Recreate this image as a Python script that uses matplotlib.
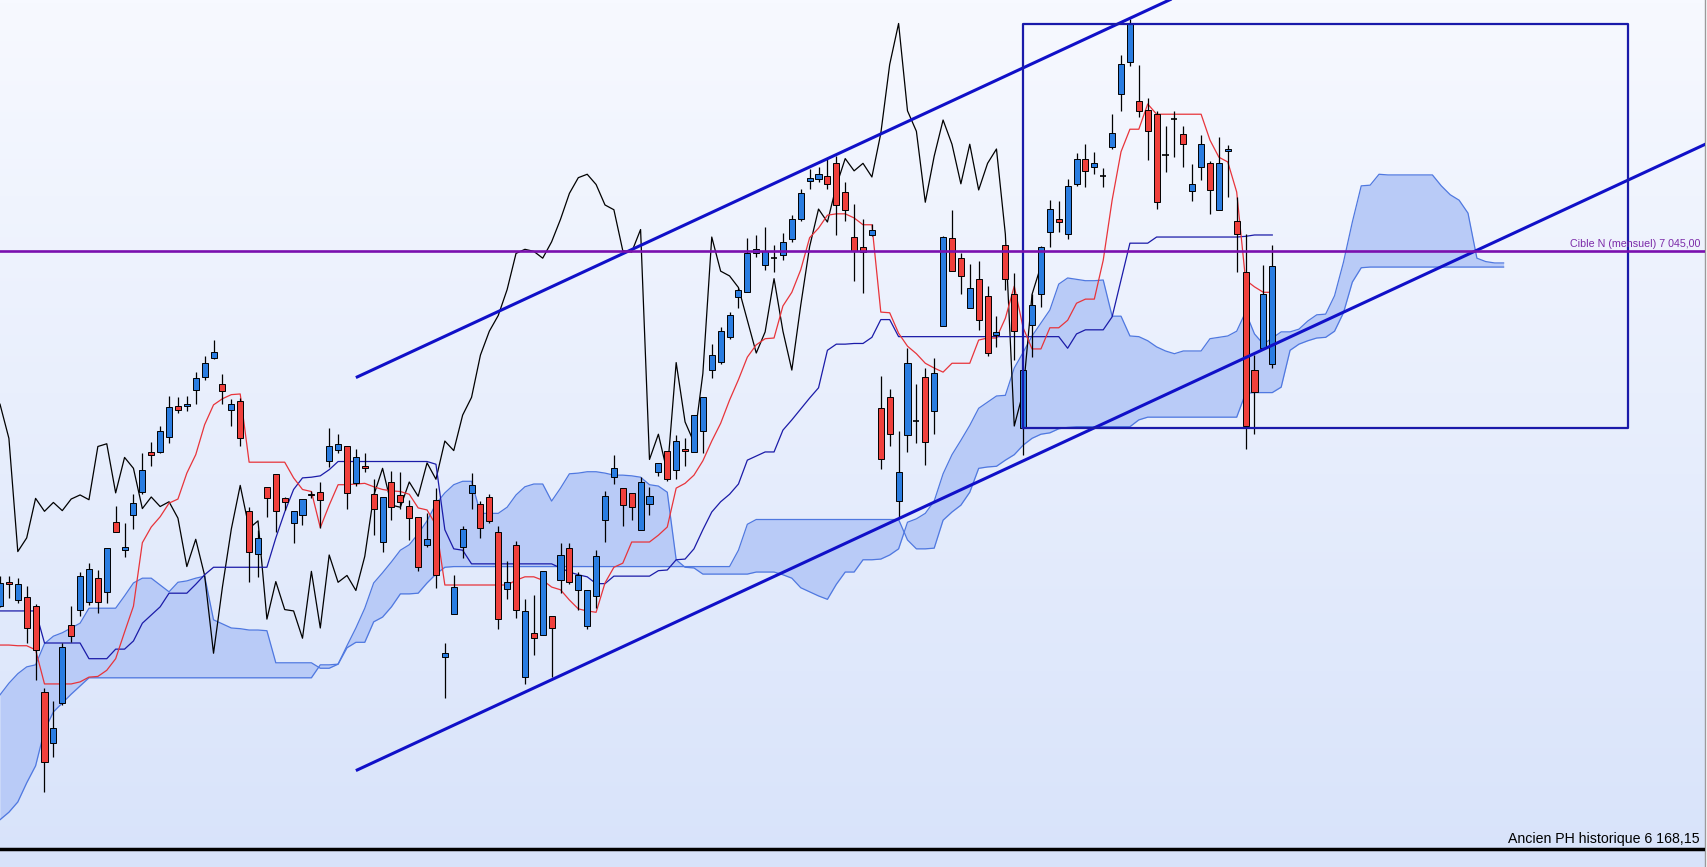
import matplotlib
matplotlib.use("Agg")
import matplotlib.pyplot as plt
import numpy as np
from matplotlib.colors import LinearSegmentedColormap

# daily candles
opens = [6524, 6560, 6533, 6537, 6524, 6398, 6324, 6382, 6497, 6518,
         6530, 6565, 6545, 6647, 6607, 6657, 6692, 6750, 6750, 6772,
         6818, 6817, 6841, 6860, 6887, 6849, 6812, 6824, 6664, 6601,
         6698, 6717, 6682, 6646, 6658, 6689, 6692, 6737, 6753, 6758,
         6704, 6730, 6688, 6618, 6706, 6687, 6671, 6654, 6613, 6680,
         6449, 6512, 6611, 6690, 6674, 6684, 6633, 6549, 6614, 6420,
         6485, 6482, 6509, 6562, 6609, 6547, 6495, 6539, 6651, 6714,
         6697, 6690, 6636, 6673, 6720, 6752, 6723, 6755, 6750, 6780,
         6870, 6882, 6918, 6977, 6984, 7041, 7024, 7034, 7039, 7062,
         7091, 7147, 7150, 7155, 7173, 7131, 7065, 7051, 7068, 6814,
         6830, 6678, 6775, 6795, 6860, 6810, 6935, 7063, 7035, 6961,
         7004, 6978, 6922, 7054, 6981, 6785, 6936, 6982, 7072, 7091,
         7070, 7142, 7179, 7167, 7154, 7197, 7274, 7321, 7264, 7251,
         7245, 7185, 7238, 7216, 7132, 7167, 7173, 7105, 7191, 7088,
         7014, 6870, 6902, 6879]
highs = [6568, 6568, 6565, 6554, 6527, 6404, 6385, 6470, 6524, 6574,
         6587, 6577, 6609, 6671, 6646, 6689, 6749, 6765, 6788, 6832,
         6831, 6832, 6867, 6890, 6914, 6864, 6827, 6829, 6670, 6636,
         6699, 6717, 6684, 6664, 6681, 6693, 6706, 6785, 6777, 6758,
         6755, 6748, 6711, 6684, 6722, 6721, 6680, 6655, 6660, 6697,
         6470, 6570, 6641, 6719, 6678, 6689, 6642, 6590, 6620, 6534,
         6540, 6576, 6509, 6616, 6616, 6574, 6547, 6606, 6693, 6746,
         6697, 6690, 6714, 6699, 6734, 6752, 6775, 6770, 6804, 6830,
         6908, 6933, 6955, 6990, 7063, 7068, 7079, 7054, 7071, 7097,
         7136, 7165, 7168, 7180, 7184, 7145, 7113, 7091, 7084, 6861,
         6842, 6780, 6902, 6849, 6873, 6887, 7066, 7105, 7042, 7025,
         7030, 6993, 6949, 7054, 7012, 6870, 6982, 7052, 7120, 7118,
         7150, 7188, 7201, 7189, 7166, 7246, 7332, 7384, 7317, 7269,
         7250, 7228, 7250, 7228, 7172, 7214, 7176, 7212, 7200, 7123,
         7070, 6892, 7024, 7053]
lows = [6523, 6536, 6529, 6470, 6416, 6251, 6303, 6379, 6472, 6509,
        6526, 6514, 6529, 6632, 6596, 6637, 6688, 6730, 6749, 6763,
        6807, 6810, 6821, 6856, 6886, 6821, 6788, 6759, 6560, 6566,
        6655, 6633, 6665, 6617, 6643, 6683, 6638, 6728, 6748, 6666,
        6700, 6720, 6628, 6604, 6650, 6667, 6621, 6576, 6611, 6550,
        6389, 6512, 6595, 6666, 6624, 6646, 6490, 6535, 6507, 6410,
        6452, 6482, 6420, 6544, 6557, 6519, 6490, 6522, 6618, 6703,
        6641, 6651, 6636, 6658, 6715, 6708, 6710, 6730, 6750, 6748,
        6859, 6879, 6916, 6961, 6984, 7036, 7016, 7014, 7032, 7057,
        7088, 7135, 7145, 7135, 7068, 7088, 7001, 6983, 7066, 6725,
        6759, 6655, 6750, 6763, 6731, 6776, 6935, 7015, 6982, 6961,
        6929, 6891, 6904, 6987, 6885, 6746, 6889, 6963, 7050, 7073,
        7062, 7140, 7138, 7157, 7139, 7194, 7250, 7315, 7241, 7178,
        7106, 7160, 7183, 7167, 7118, 7149, 7099, 7105, 7123, 7014,
        6754, 6776, 6902, 6873]
closes = [6558, 6557, 6557, 6492, 6460, 6295, 6345, 6464, 6480, 6568,
          6578, 6530, 6609, 6632, 6611, 6675, 6723, 6745, 6780, 6816,
          6812, 6820, 6858, 6881, 6896, 6839, 6820, 6770, 6604, 6624,
          6682, 6663, 6676, 6664, 6681, 6687, 6680, 6758, 6762, 6690,
          6742, 6726, 6667, 6684, 6670, 6677, 6653, 6582, 6622, 6569,
          6455, 6552, 6637, 6701, 6638, 6649, 6505, 6560, 6519, 6517,
          6477, 6575, 6492, 6599, 6559, 6569, 6547, 6597, 6686, 6726,
          6672, 6669, 6706, 6685, 6734, 6710, 6766, 6752, 6804, 6830,
          6892, 6927, 6950, 6988, 7041, 7047, 7044, 7034, 7058, 7091,
          7129, 7152, 7157, 7142, 7112, 7105, 7045, 7043, 7076, 6739,
          6776, 6720, 6881, 6794, 6764, 6865, 7065, 7015, 7008, 6991,
          6943, 6895, 6926, 7004, 6927, 6870, 6965, 7051, 7106, 7087,
          7140, 7180, 7162, 7173, 7153, 7217, 7318, 7378, 7250, 7220,
          7116, 7183.5, 7236.5, 7201, 7143, 7201, 7134, 7173, 7194, 7069,
          6788, 6838, 6981, 7023]

# ichimoku lines
tenkan = [6467, 6467, 6466, 6466, 6460, 6410, 6410, 6410, 6410, 6413,
          6420, 6421, 6430, 6447, 6486, 6524, 6617, 6640, 6655, 6675,
          6681, 6719, 6746, 6790, 6819, 6828, 6834, 6835, 6735, 6735,
          6735, 6735, 6735, 6712, 6695, 6692, 6639, 6672, 6702, 6702,
          6703, 6704, 6699, 6695, 6693, 6692, 6688, 6668, 6665, 6643,
          6555, 6555, 6555, 6555, 6555, 6555, 6555, 6555, 6562, 6567,
          6567, 6562, 6552, 6548, 6533, 6520, 6517, 6515, 6558, 6581,
          6587, 6618, 6618, 6618, 6628, 6640, 6697, 6704, 6716, 6737,
          6766, 6792, 6826, 6856, 6889, 6907, 6916, 6917, 6964, 6984,
          7017, 7064, 7078, 7097, 7099, 7099, 7093, 7083, 7083, 6955,
          6954, 6924, 6905, 6894, 6880, 6873, 6867, 6880, 6880, 6880,
          6914, 6917, 6917, 6946, 6993, 6932, 6901, 6901, 6932, 6932,
          6943, 6968, 6974, 6974, 7031, 7119, 7190, 7223, 7223, 7260,
          7245, 7245, 7245, 7245, 7245, 7245, 7207, 7182, 7175, 7131,
          7002, 6992, 6984, 6984]
kijun = [6517, 6517, 6517, 6517, 6517, 6470, 6470, 6470, 6470, 6470,
         6447, 6447, 6447, 6461, 6461, 6473, 6499, 6511, 6523, 6543,
         6543, 6543, 6556, 6570, 6581, 6581, 6581, 6581, 6581, 6581,
         6581, 6624, 6662, 6695, 6712, 6713, 6715, 6724, 6736, 6736,
         6736, 6736, 6736, 6736, 6736, 6736, 6736, 6736, 6736, 6732,
         6636, 6608, 6606, 6586, 6586, 6586, 6586, 6586, 6586, 6586,
         6586, 6586, 6586, 6580, 6574, 6570, 6567, 6557, 6557, 6568,
         6568, 6568, 6568, 6568, 6576, 6577, 6592, 6593, 6608, 6636,
         6662, 6677, 6688, 6703, 6738, 6744, 6750, 6750, 6782, 6797,
         6813, 6829, 6844, 6899, 6908, 6908, 6909, 6909, 6918, 6944,
         6944, 6919, 6919, 6919, 6919, 6919, 6919, 6919, 6919, 6919,
         6919, 6919, 6919, 6919, 6919, 6919, 6919, 6919, 6919, 6919,
         6902, 6923, 6929, 6929, 6929, 6948, 7002, 7056, 7056, 7056,
         7065, 7065, 7065, 7065, 7065, 7065, 7065, 7065, 7065, 7065,
         7066, 7068, 7068, 7068]
# senkou spans, already shifted 26 sessions ahead (170 values)
span_a = [6394, 6411, 6425, 6435, 6438, 6469, 6480, 6485, 6492, 6499,
          6521, 6521, 6521, 6521, 6539, 6558, 6565, 6565, 6555, 6545,
          6559, 6561, 6565, 6568, 6504, 6498, 6492, 6491, 6489, 6489,
          6488, 6441, 6441, 6441, 6441, 6441, 6433, 6433, 6439, 6466,
          6492, 6521, 6558, 6573, 6589, 6606, 6614, 6630, 6649, 6674,
          6690, 6702, 6707, 6707, 6660, 6660, 6660, 6669, 6687, 6699,
          6703, 6703, 6678, 6697, 6718, 6719, 6721, 6721, 6719, 6716,
          6716, 6715, 6713, 6702, 6700, 6691, 6592, 6581, 6580, 6571,
          6571, 6571, 6571, 6571, 6571, 6574, 6574, 6574, 6570, 6565,
          6551, 6545, 6539, 6534, 6556, 6574, 6574, 6592, 6592, 6593,
          6599, 6608, 6647, 6652, 6660, 6678, 6718, 6746, 6767, 6789,
          6814, 6823, 6832, 6833, 6873, 6896, 6920, 6939, 6958, 6996,
          7005, 7003, 7001, 7001, 7002, 6949, 6949, 6920, 6919, 6913,
          6904, 6898, 6894, 6898, 6898, 6898, 6916, 6918, 6920, 6927,
          6955, 6923, 6908, 6917, 6926, 6926, 6930, 6942, 6951, 6952,
          6979, 7028, 7087, 7140, 7141, 7157, 7156, 7156, 7156, 7156,
          7156, 7156, 7140, 7127, 7119, 7100, 7034, 7029, 7027, 7027]
span_b = [6211, 6222, 6237, 6265, 6290, 6342, 6369, 6382, 6395, 6407,
          6419, 6419, 6419, 6419, 6419, 6419, 6419, 6419, 6419, 6419,
          6419, 6419, 6419, 6419, 6419, 6419, 6419, 6419, 6419, 6419,
          6419, 6419, 6419, 6419, 6419, 6419, 6438, 6438, 6439, 6463,
          6471, 6471, 6501, 6508, 6523, 6542, 6542, 6543, 6558, 6571,
          6581, 6582, 6582, 6582, 6582, 6582, 6582, 6582, 6582, 6582,
          6582, 6582, 6582, 6582, 6582, 6582, 6582, 6582, 6582, 6582,
          6582, 6582, 6582, 6582, 6582, 6582, 6582, 6582, 6582, 6582,
          6582, 6582, 6582, 6606, 6644, 6651, 6651, 6651, 6651, 6651,
          6651, 6651, 6651, 6651, 6651, 6651, 6651, 6651, 6651, 6651,
          6651, 6651, 6621, 6608, 6608, 6609, 6650, 6662, 6672, 6691,
          6726, 6728, 6729, 6738, 6746, 6760, 6770, 6776, 6778, 6784,
          6786, 6787, 6787, 6787, 6787, 6787, 6787, 6787, 6797, 6801,
          6801, 6801, 6801, 6801, 6801, 6801, 6801, 6801, 6801, 6801,
          6836, 6837, 6837, 6837, 6845, 6899, 6908, 6913, 6917, 6918,
          6927, 6954, 6999, 7020, 7021, 7021, 7021, 7021, 7021, 7021,
          7021, 7021, 7021, 7021, 7021, 7021, 7021, 7021, 7021, 7021]
lag = 26

# drawings
channel_top = [(40, 6859), (135, 7434)]
channel_bottom = [(40, 6283), (192, 7203)]
box_sessions = (115, 183)
box_prices = (6785, 7377)
target_level = 7045.00
target_label = "Cible N (mensuel) 7 045,00"
old_high_level = 6168.15
old_high_label = "Ancien PH historique 6 168,15"

plt.rcParams['font.family'] = ['Liberation Sans', 'DejaVu Sans']

opens = np.array(opens, float)
highs = np.array(highs, float)
lows = np.array(lows, float)
closes = np.array(closes, float)
x = np.arange(len(closes))
xc = np.arange(len(span_a))

fig = plt.figure(figsize=(17.07, 8.67), dpi=100)
ax = fig.add_axes([0, 0, 1705 / 1707, 1])
x0, x1 = 0, 1705 / 8.897
y0, y1 = 6141.7, 7412.4
ax.set_xlim(x0, x1)
ax.set_ylim(y0, y1)

# background gradient
cmap = LinearSegmentedColormap.from_list('bg', ['#d8e3fa', '#f7f9ff'])
grad = np.linspace(0, 1, 256).reshape(-1, 1)
ax.imshow(grad, cmap=cmap, aspect='auto', origin='lower',
          extent=[x0, x1, y0, y1], zorder=0)

# kumo
ax.fill_between(xc, span_a, span_b, color='#b9cbf7', lw=0, zorder=1)
ax.plot(xc, span_a, color='#4f78e0', lw=0.9, zorder=2)
ax.plot(xc, span_b, color='#4f78e0', lw=0.9, zorder=2)

# chikou, kijun, tenkan
ax.plot(x[:-lag], closes[lag:], color='black', lw=0.9, zorder=3)
ax.plot(x, kijun, color='#1b1ba8', lw=0.9, zorder=3)
ax.plot(x, tenkan, color='#e8343a', lw=0.9, zorder=3)

# candles
ax.vlines(x, lows, highs, color='black', lw=0.9, zorder=4)
diff = closes - opens
doji = np.abs(diff) <= 1.5
cols = np.where(diff > 0, '#2a7de1', '#f0403c')
body = ~doji
ax.bar(x[body], np.abs(diff[body]), bottom=np.minimum(opens, closes)[body],
       width=0.68, color=cols[body], edgecolor='black', linewidth=0.7, zorder=5)
ax.hlines(opens[doji], x[doji] - 0.34, x[doji] + 0.34, color='black',
          lw=1.2, zorder=5)

# channel
for seg in (channel_top, channel_bottom):
    ax.plot([seg[0][0], seg[1][0]], [seg[0][1], seg[1][1]],
            color='#1010c8', lw=2.2, zorder=6, solid_capstyle='butt')

# box
bx = [box_sessions[0], box_sessions[1], box_sessions[1], box_sessions[0], box_sessions[0]]
by = [box_prices[0], box_prices[0], box_prices[1], box_prices[1], box_prices[0]]
ax.plot(bx, by, color='#1a1aaa', lw=1.6, zorder=6)

# horizontal levels
ax.axhline(target_level, color='#7a10ae', lw=1.9, zorder=6)
ax.axhline(old_high_level, color='black', lw=2.5, zorder=6)
ax.text(1700 / 8.897, target_level + 2.5, target_label, ha='right', va='bottom',
        color='#7b2aa8', fontsize=7.7, zorder=7)
ax.text(1700 / 8.897, old_high_level + 4, old_high_label, ha='right', va='bottom',
        color='black', fontsize=10.2, zorder=7)

ax.set_xticks([])
ax.set_yticks([])
for s in ('left', 'top', 'bottom'):
    ax.spines[s].set_visible(False)
ax.spines['right'].set_color('#9a9a9a')
ax.spines['right'].set_linewidth(1.0)

fig.savefig('out.png', dpi=100)
